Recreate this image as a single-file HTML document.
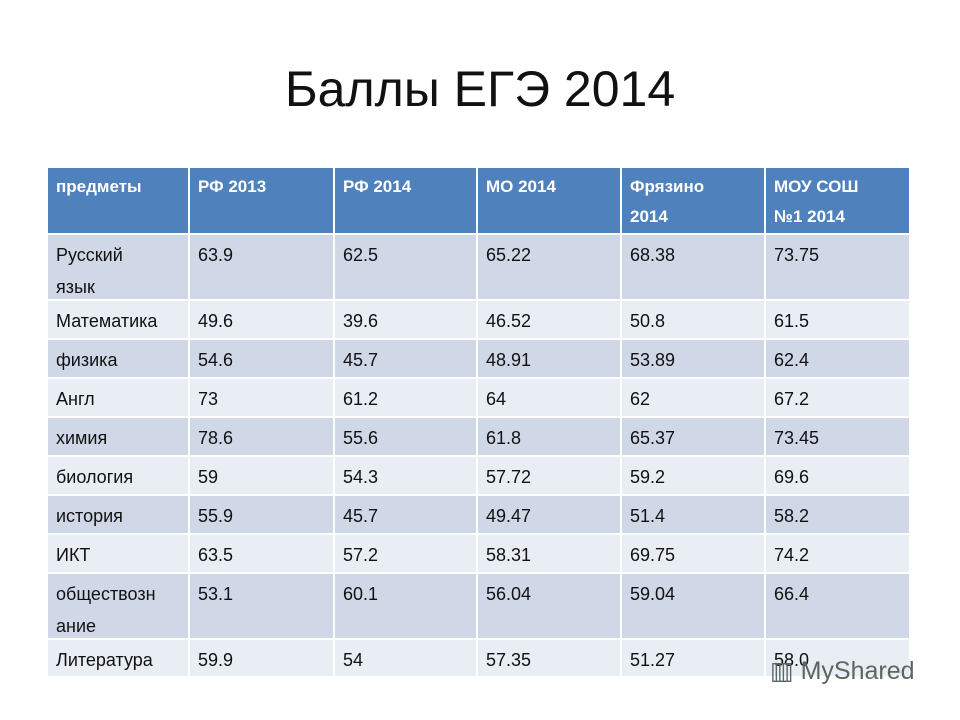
<!DOCTYPE html>
<html><head><meta charset="utf-8"><style>
body{margin:0;width:960px;height:720px;background:#fff;font-family:"Liberation Sans","DejaVu Sans",sans-serif;position:relative;overflow:hidden}
#title{position:absolute;left:0;width:960px;top:60px;text-align:center;font-size:50px;color:#111}
.c{position:absolute;box-sizing:border-box;border-right:2px solid #fff;border-bottom:2px solid #fff;padding:4px 0 0 8px;font-size:18px;line-height:32px;color:#111;white-space:pre-line}
.h{background:#4f81bd;color:#fff;font-weight:bold;font-size:17px;line-height:30px;padding-top:4px}
.d{background:#d0d8e8}.l{background:#e9edf4}
#wm{position:absolute;left:770px;top:656px;font-size:25px;color:#5a6660}
</style></head><body>
<div id="title">Баллы ЕГЭ 2014</div>
<div id="tbl"></div>
<div id="wm">▥ MyShared</div>
<script>
const cols=[48,190,335,478,622,766,911];
const rows=[168,235,301,340,379,418,457,496,535,574,640,678];
const headers=["предметы","РФ 2013","РФ 2014","МО 2014","Фрязино\n2014","МОУ СОШ\n№1 2014"];
const data=[
["Русский\nязык","63.9","62.5","65.22","68.38","73.75"],
["Математика","49.6","39.6","46.52","50.8","61.5"],
["физика","54.6","45.7","48.91","53.89","62.4"],
["Англ","73","61.2","64","62","67.2"],
["химия","78.6","55.6","61.8","65.37","73.45"],
["биология","59","54.3","57.72","59.2","69.6"],
["история","55.9","45.7","49.47","51.4","58.2"],
["ИКТ","63.5","57.2","58.31","69.75","74.2"],
["обществозн\nание","53.1","60.1","56.04","59.04","66.4"],
["Литература","59.9","54","57.35","51.27","58.0"]];
const t=document.getElementById('tbl');
function cell(r,c,txt,cls){
 const d=document.createElement('div');
 d.className='c '+cls;
 d.style.left=cols[c]+'px';d.style.top=rows[r]+'px';
 d.style.width=(cols[c+1]-cols[c])+'px';d.style.height=(rows[r+1]-rows[r])+'px';
 d.textContent=txt;
 
 
 t.appendChild(d);
}
headers.forEach((h,c)=>cell(0,c,h,'h'));
data.forEach((row,i)=>row.forEach((v,c)=>cell(i+1,c,v,i%2===0?'d':'l')));
</script>
</body></html>
